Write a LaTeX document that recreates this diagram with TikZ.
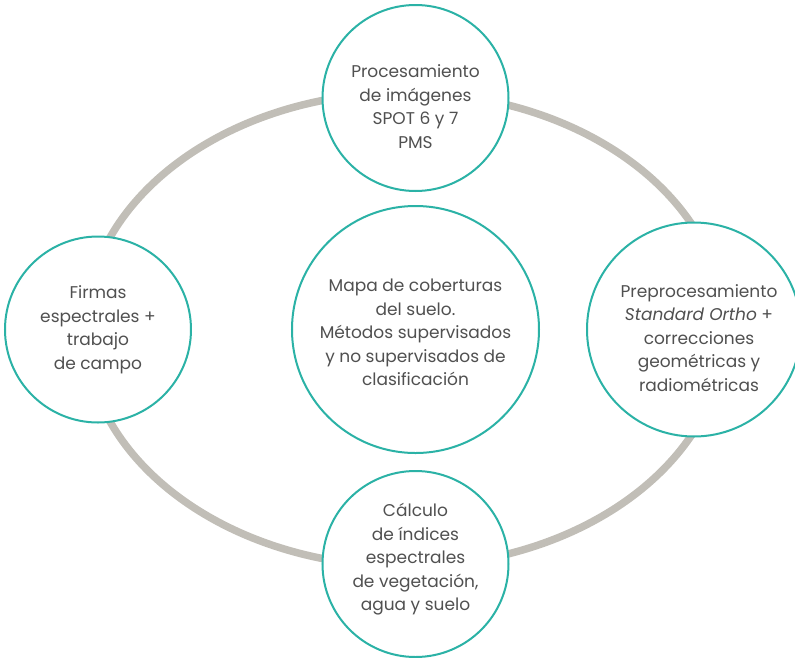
\documentclass[tikz,border=0pt]{standalone}
\usepackage{fontspec}
\setmainfont{Poppins}
\usetikzlibrary{positioning,backgrounds}
\definecolor{circteal}{RGB}{43,178,166}
\definecolor{ringgray}{RGB}{193,190,183}
\definecolor{textgray}{RGB}{80,80,80}

\begin{document}
\begin{tikzpicture}[x=1pt,y=1pt,
	item/.style={circle,draw=circteal,line width=2pt,fill=white,
		minimum size=186pt,inner sep=0pt},
	txt/.style={align=center,text=textgray,
		font=\fontsize{17}{23.5}\selectfont},
	ring/.style={draw=ringgray,line width=7.5pt}]
	\useasboundingbox (-415.5,-327.5) rectangle (379.5,329.5);
	% circles
	\node[item,minimum size=247pt] (mapa) {};
	\node[item,above=13pt of mapa] (proc) {};
	\node[item,below=16pt of mapa] (calc) {};
	\node[item,left=99pt of mapa] (firmas) {};
	\node[item,right=46pt of mapa,minimum size=214pt] (prepro) {};
	% the ring behind them
	\begin{scope}[on background layer]
		\draw[ring] ([xshift=-10.5pt]mapa.center) ellipse [x radius=320pt, y radius=237pt];
	\end{scope}
	% texts
	\node[txt] (tmapa) at ([yshift=-3pt]mapa.center)
	{Mapa de coberturas\\del suelo.\\Métodos supervisados\\y no supervisados de\\clasificación};
	\node[txt] (tproc) at ([yshift=-8.5pt]proc.center)
	{Procesamiento\\de imágenes\\SPOT 6 y 7\\PMS};
	\node[txt] (tcalc) at ([yshift=4.5pt]calc.center)
	{Cálculo\\de índices\\espectrales\\de vegetación,\\agua y suelo};
	\node[txt] (tfirmas) at (firmas.center)
	{Firmas\\espectrales +\\trabajo\\de campo};
	\node[txt] (tprepro) at ([xshift=5pt,yshift=-8.5pt]prepro.center)
	{Preprocesamiento\\\textit{Standard Ortho} +\\correcciones\\geométricas y\\radiométricas};
\end{tikzpicture}
\end{document}
